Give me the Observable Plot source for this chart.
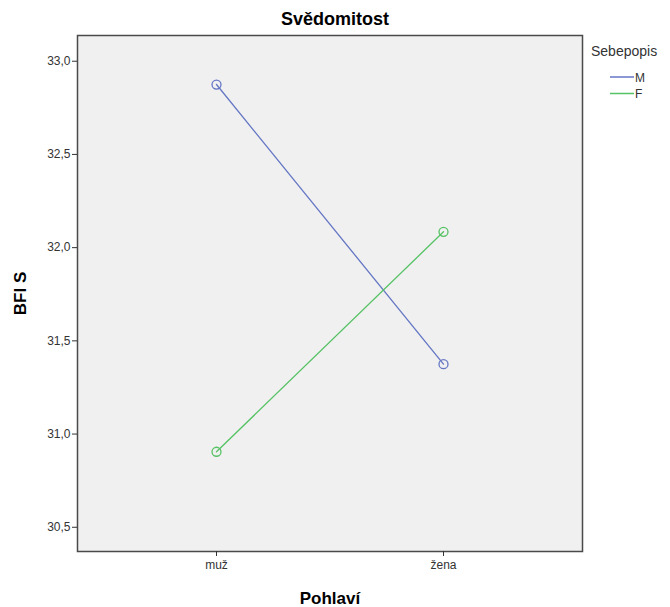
<!DOCTYPE html>
<html>
<head>
<meta charset="utf-8">
<script src="https://cdn.jsdelivr.net/npm/d3@7"></script>
<script src="https://cdn.jsdelivr.net/npm/@observablehq/plot@0.6"></script>
<style>
  html, body { margin: 0; padding: 0; background: #fff; }
  svg { font-family: "Liberation Sans", Arial, sans-serif; }
</style>
</head>
<body>
<div id="chart"></div>
<script>
const categories = ["muž", "žena"];
const seriesNames = ["M", "F"];
const seriesColors = ["#6476c4", "#55c264"];
const valuesM = [32.875, 31.375];
const valuesF = [30.905, 32.085];
const yTicks = [30.5, 31.0, 31.5, 32.0, 32.5, 33.0];
const titleText = "Svědomitost";
const xLabel = "Pohlaví";
const yLabel = "BFI S";
const legendTitle = "Sebepopis";

const data = [];
categories.forEach((c, i) => {
  data.push({ cat: c, value: valuesM[i], series: "M" });
  data.push({ cat: c, value: valuesF[i], series: "F" });
});

const fmt = v => d3.format(".1f")(v).replace(".", ",");

const legendMark = (index, scales, values, dimensions) => {
  const g = d3.create("svg:g").attr("text-anchor", "start");
  const x0 = dimensions.width - dimensions.marginRight;
  const top = dimensions.marginTop;
  g.append("text")
    .attr("x", x0 + 9).attr("y", top + 21)
    .attr("font-size", 14).attr("fill", "#333")
    .text(legendTitle);
  seriesNames.forEach((s, i) => {
    const y = top + 42 + i * 16.5;
    g.append("line")
      .attr("x1", x0 + 28).attr("x2", x0 + 52)
      .attr("y1", y).attr("y2", y)
      .attr("stroke", seriesColors[i]).attr("stroke-width", 1.5);
    g.append("text")
      .attr("x", x0 + 53).attr("y", y + 4.5)
      .attr("font-size", 12).attr("fill", "#333")
      .text(s);
  });
  return g.node();
};

const chart = Plot.plot({
  width: 670,
  height: 607,
  marginLeft: 77,
  marginRight: 88,
  marginTop: 35,
  marginBottom: 56,
  style: { fontFamily: "Liberation Sans, Arial, sans-serif", background: "#fff" },
  x: { type: "point", domain: categories, padding: 0.612, label: null },
  y: { domain: [30.37, 33.138], label: null },
  color: { domain: seriesNames, range: seriesColors },
  marks: [
    Plot.frame({ fill: "#f0f0f0", stroke: "none" }),
    Plot.line(data, { x: "cat", y: "value", z: "series", stroke: "series", strokeWidth: 1.3 }),
    Plot.dot(data, { x: "cat", y: "value", stroke: "series", r: 4.5, strokeWidth: 1.3, fill: "none" }),
    Plot.frame({ stroke: "#4a4a4a", strokeWidth: 1.5 }),
    Plot.axisY(yTicks, { tickFormat: fmt, tickSize: 5, tickPadding: 2, fontSize: 12, stroke: "#333", fill: "#333" }),
    Plot.axisX(categories, { tickSize: 5, tickPadding: 4, fontSize: 12, stroke: "#333", fill: "#333" }),
    Plot.text([titleText], { frameAnchor: "top", dy: -16, dx: 5, lineAnchor: "middle", textAnchor: "middle", text: d => d, fontSize: 18, fontWeight: "bold", fill: "#000" }),
    Plot.text([yLabel], { frameAnchor: "left", dx: -57, rotate: -90, lineAnchor: "middle", textAnchor: "middle", text: d => d, fontSize: 17, fontWeight: "bold", fill: "#000" }),
    Plot.text([xLabel], { frameAnchor: "bottom", dy: 47, lineAnchor: "middle", textAnchor: "middle", text: d => d, fontSize: 17, fontWeight: "bold", fill: "#000" }),
    legendMark
  ]
});
document.getElementById("chart").appendChild(chart);
</script>
</body>
</html>
